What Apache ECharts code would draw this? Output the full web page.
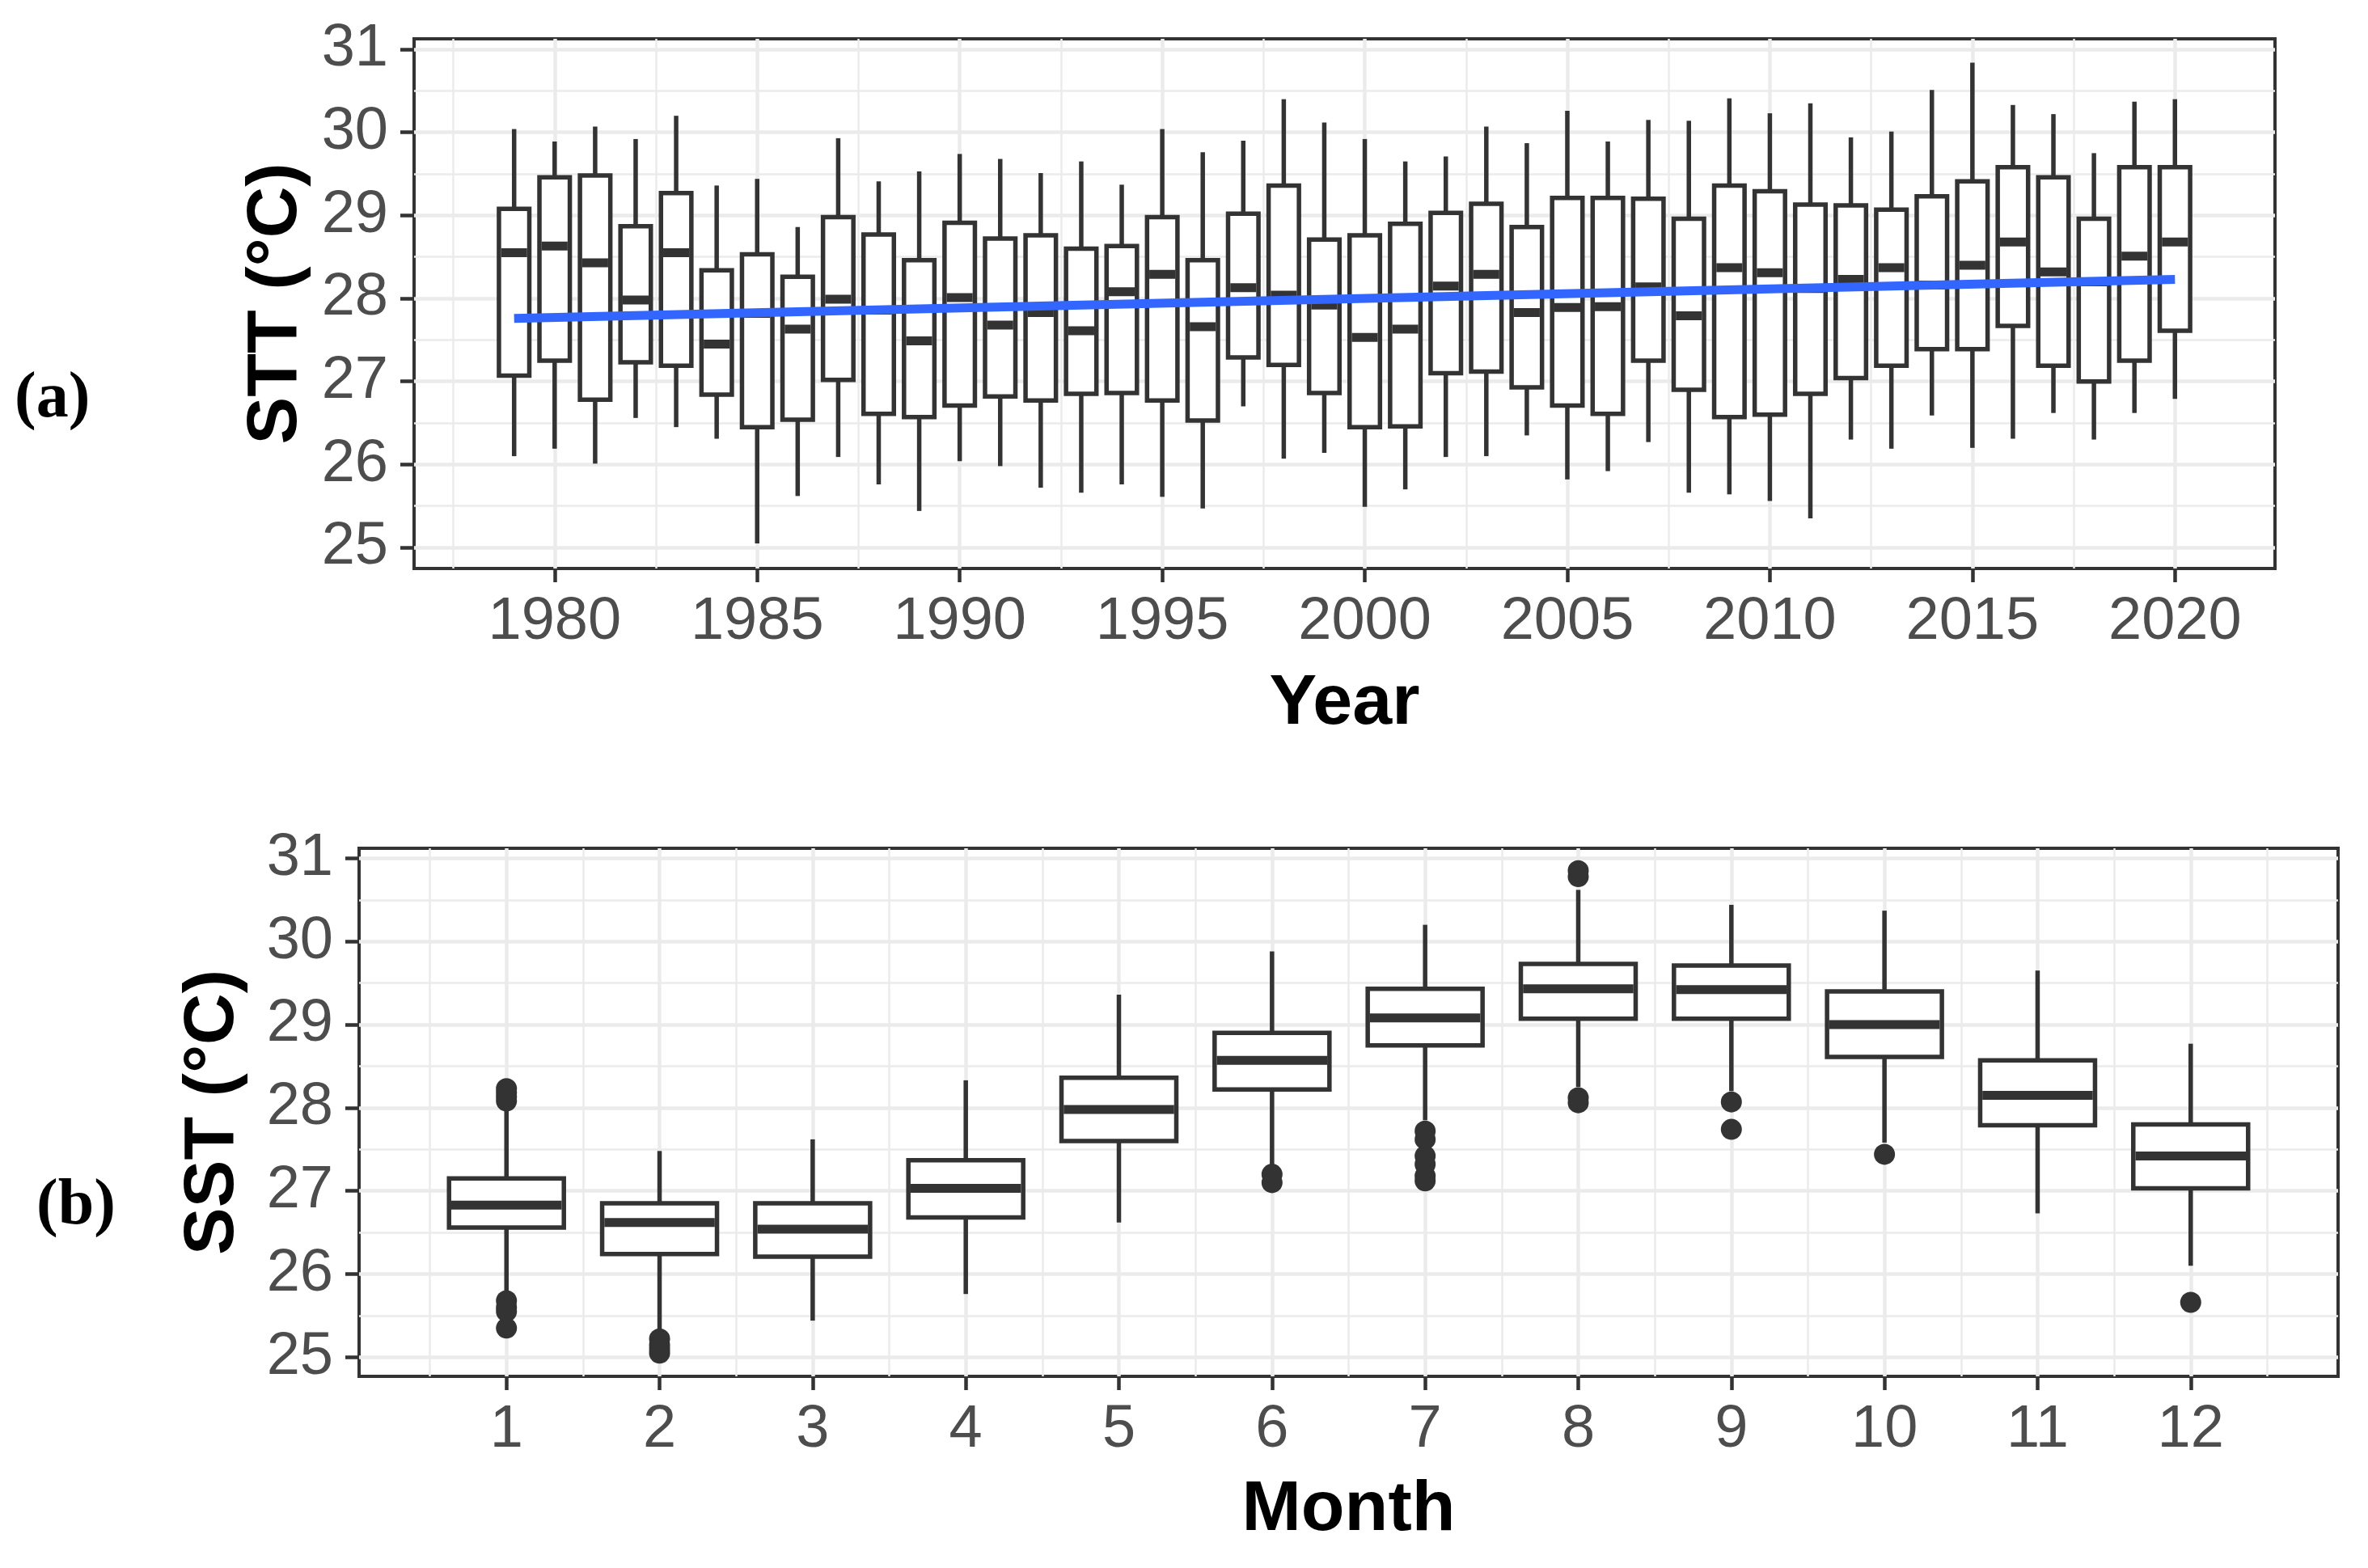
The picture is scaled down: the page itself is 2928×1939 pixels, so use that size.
<!DOCTYPE html>
<html>
<head>
<meta charset="utf-8">
<script src="https://cdn.jsdelivr.net/npm/echarts@6/dist/echarts.min.js"></script>
<style>
html,body{margin:0;padding:0;background:#fff;}
#chart{width:2928px;height:1939px;}
</style>
</head>
<body>
<div id="chart"></div>
<script>
// ---------- Data: (a) yearly boxes ----------
const years = [1979,1980,1981,1982,1983,1984,1985,1986,1987,1988,1989,1990,1991,1992,1993,1994,1995,1996,1997,1998,1999,2000,2001,2002,2003,2004,2005,2006,2007,2008,2009,2010,2011,2012,2013,2014,2015,2016,2017,2018,2019,2020];
const yearLow  = [26.10,26.19,26.01,26.56,26.45,26.31,25.05,25.62,26.09,25.76,25.44,26.04,25.98,25.72,25.66,25.76,25.61,25.47,26.70,26.07,26.14,25.49,25.70,26.09,26.10,26.35,25.82,25.92,26.27,25.66,25.64,25.56,25.35,26.30,26.19,26.59,26.20,26.31,26.62,26.30,26.62,26.79];
const yearQ1   = [27.07,27.25,26.78,27.23,27.19,26.84,26.45,26.54,27.02,26.61,26.57,26.71,26.82,26.77,26.85,26.86,26.77,26.53,27.29,27.20,26.86,26.45,26.46,27.10,27.12,26.93,26.71,26.61,27.25,26.90,26.57,26.60,26.85,27.04,27.19,27.39,27.39,27.67,27.19,27.00,27.25,27.61];
const yearMed  = [28.55,28.63,28.43,27.98,28.55,27.45,27.82,27.63,27.99,27.86,27.49,28.01,27.68,27.83,27.61,28.08,28.29,27.66,28.13,28.04,27.92,27.53,27.63,28.15,28.29,27.83,27.89,27.90,28.14,27.79,28.37,28.31,28.12,28.23,28.37,28.16,28.40,28.68,28.32,28.20,28.51,28.68];
const yearQ3   = [29.08,29.46,29.48,28.87,29.27,28.34,28.53,28.26,28.98,28.77,28.46,28.91,28.72,28.76,28.60,28.63,28.98,28.46,29.02,29.36,28.71,28.76,28.90,29.03,29.14,28.86,29.21,29.21,29.20,28.96,29.36,29.29,29.13,29.12,29.07,29.23,29.41,29.58,29.46,28.96,29.58,29.58];
const yearHigh = [30.04,29.89,30.07,29.92,30.20,29.36,29.44,28.86,29.93,29.41,29.53,29.74,29.68,29.51,29.65,29.37,30.04,29.76,29.90,30.40,30.12,29.92,29.65,29.71,30.07,29.87,30.26,29.89,30.15,30.14,30.41,30.23,30.35,29.94,30.01,30.51,30.84,30.33,30.22,29.75,30.37,30.40];
const trendLine = [[1979, 27.76], [2020, 28.23]];

// ---------- Data: (b) monthly boxes ----------
const months = [1,2,3,4,5,6,7,8,9,10,11,12];
const monthLow  = [25.71,25.32,25.44,25.76,26.62,27.30,27.85,28.25,28.20,27.58,26.73,26.10];
const monthQ1   = [26.56,26.24,26.21,26.68,27.60,28.22,28.75,29.07,29.07,28.61,27.79,27.03];
const monthMed  = [26.83,26.62,26.54,27.03,27.98,28.57,29.08,29.43,29.42,29.00,28.15,27.42];
const monthQ3   = [27.15,26.85,26.85,27.37,28.36,28.90,29.43,29.73,29.71,29.40,28.57,27.80];
const monthHigh = [28.00,27.48,27.62,28.33,29.36,29.88,30.20,30.62,30.44,30.37,29.65,28.77];
const monthOutliers = [
  [1,28.08],[1,28.13],[1,28.18],[1,28.23],[1,25.68],[1,25.60],[1,25.55],[1,25.35],
  [2,25.22],[2,25.15],[2,25.10],[2,25.05],
  [6,27.20],[6,27.10],
  [7,27.72],[7,27.62],[7,27.42],[7,27.32],[7,27.18],[7,27.12],
  [8,30.85],[8,30.78],[8,28.12],[8,28.06],
  [9,28.07],[9,27.74],
  [10,27.44],
  [12,25.66]
];

// ---------- Tick labels ----------
const yearTicks = [1980,1985,1990,1995,2000,2005,2010,2015,2020];
const yearMinorTicks = [1977.5,1982.5,1987.5,1992.5,1997.5,2002.5,2007.5,2012.5,2017.5];
const tempTicks = [25,26,27,28,29,30,31];
const tempMinorTicks = [25.5,26.5,27.5,28.5,29.5,30.5];
const monthTicks = [1,2,3,4,5,6,7,8,9,10,11,12];
const monthMinorTicks = [0.5,1.5,2.5,3.5,4.5,5.5,6.5,7.5,8.5,9.5,10.5,11.5,12.5];

// ---------- Build ----------
const DARK = '#333333';
const BOX_W = 0.75;
function zipBoxes(xs, lo, q1, md, q3, hi) {
  return xs.map((x, i) => [x, lo[i], q1[i], md[i], q3[i], hi[i]]);
}
function boxRender(params, api) {
  const x = api.value(0);
  const pLow = api.coord([x, api.value(1)]);
  const pQ1 = api.coord([x, api.value(2)]);
  const pMed = api.coord([x, api.value(3)]);
  const pQ3 = api.coord([x, api.value(4)]);
  const pHigh = api.coord([x, api.value(5)]);
  const w = api.size([BOX_W, 0])[0];
  const cx = pLow[0];
  const lw = 5.5;
  return {
    type: 'group',
    children: [
      {type: 'line', shape: {x1: cx, y1: pHigh[1], x2: cx, y2: pQ3[1]}, style: {stroke: DARK, lineWidth: lw}},
      {type: 'line', shape: {x1: cx, y1: pQ1[1], x2: cx, y2: pLow[1]}, style: {stroke: DARK, lineWidth: lw}},
      {type: 'rect', shape: {x: cx - w / 2, y: pQ3[1], width: w, height: pQ1[1] - pQ3[1]},
        style: {fill: '#ffffff', stroke: DARK, lineWidth: lw}},
      {type: 'line', shape: {x1: cx - w / 2 + lw / 2, y1: pMed[1], x2: cx + w / 2 - lw / 2, y2: pMed[1]},
        style: {stroke: DARK, lineWidth: 11}}
    ]
  };
}

const tickLabelStyle = {fontFamily: 'Liberation Sans', fontSize: 74, color: '#4D4D4D'};
const nameStyle = {fontFamily: 'Liberation Sans', fontSize: 88, fontWeight: 'bold', color: '#000000'};

function mainAxis(gridIndex, min, max, ticks, isX, name, nameGap) {
  return {
    type: 'value', gridIndex, min, max,
    position: isX ? 'bottom' : 'left',
    name, nameLocation: 'middle', nameGap, nameTextStyle: nameStyle,
    axisLine: {show: false},
    axisTick: {show: true, inside: false, length: 17, customValues: ticks, lineStyle: {color: DARK, width: 4.5}},
    axisLabel: Object.assign({show: true, margin: isX ? 30 : 32, customValues: ticks,
      formatter: v => String(v)}, tickLabelStyle),
    splitLine: {show: true, lineStyle: {color: '#EBEBEB', width: 4.5}},
    minorTick: {show: false}, minorSplitLine: {show: false}
  };
}
function minorAxis(gridIndex, min, max, ticks, isX) {
  return {
    type: 'value', gridIndex, min, max,
    position: isX ? 'top' : 'right',
    axisLine: {show: false},
    axisTick: {show: false, customValues: ticks},
    axisLabel: {show: false, customValues: ticks},
    splitLine: {show: true, lineStyle: {color: '#EBEBEB', width: 2.5}}
  };
}

const X1MIN = 1976.53, X1MAX = 2022.47, Y1MIN = 24.747, Y1MAX = 31.127;
const X2MIN = 0.0375, X2MAX = 12.9625, Y2MIN = 24.77, Y2MAX = 31.12;

const option = {
  backgroundColor: '#ffffff',
  animation: false,
  grid: [
    {left: 512, top: 48, width: 2301, height: 655, show: true, borderColor: DARK, borderWidth: 4,
      backgroundColor: 'transparent', outerBoundsMode: 'none'},
    {left: 444, top: 1049, width: 2447, height: 653, show: true, borderColor: DARK, borderWidth: 4,
      backgroundColor: 'transparent', outerBoundsMode: 'none'}
  ],
  xAxis: [
    mainAxis(0, X1MIN, X1MAX, yearTicks, true, 'Year', 124),
    minorAxis(0, X1MIN, X1MAX, yearMinorTicks, true),
    mainAxis(1, X2MIN, X2MAX, monthTicks, true, 'Month', 122),
    minorAxis(1, X2MIN, X2MAX, monthMinorTicks, true)
  ],
  yAxis: [
    mainAxis(0, Y1MIN, Y1MAX, tempTicks, false, 'STT (°C)', 126),
    minorAxis(0, Y1MIN, Y1MAX, tempMinorTicks, false),
    mainAxis(1, Y2MIN, Y2MAX, tempTicks, false, 'SST (°C)', 136),
    minorAxis(1, Y2MIN, Y2MAX, tempMinorTicks, false)
  ],
  graphic: [
    {type: 'text', left: 18, top: 454, style: {text: '(a)', fontFamily: 'Liberation Serif', fontWeight: 'bold', fontSize: 80, fill: '#000'}},
    {type: 'text', left: 45, top: 1452, style: {text: '(b)', fontFamily: 'Liberation Serif', fontWeight: 'bold', fontSize: 80, fill: '#000'}}
  ],
  series: [
    {
      type: 'custom', name: 'yearly', xAxisIndex: 0, yAxisIndex: 0,
      renderItem: boxRender,
      dimensions: ['year', 'low', 'q1', 'median', 'q3', 'high'],
      encode: {x: 0, y: [1, 2, 3, 4, 5]},
      data: zipBoxes(years, yearLow, yearQ1, yearMed, yearQ3, yearHigh),
      z: 3
    },
    {
      type: 'line', name: 'trend', xAxisIndex: 0, yAxisIndex: 0,
      data: trendLine, showSymbol: false, symbol: 'none',
      lineStyle: {color: '#3366FF', width: 11}, z: 4
    },
    {
      type: 'custom', name: 'monthly', xAxisIndex: 2, yAxisIndex: 2,
      renderItem: boxRender,
      dimensions: ['month', 'low', 'q1', 'median', 'q3', 'high'],
      encode: {x: 0, y: [1, 2, 3, 4, 5]},
      data: zipBoxes(months, monthLow, monthQ1, monthMed, monthQ3, monthHigh),
      z: 3
    },
    {
      type: 'scatter', name: 'outliers', xAxisIndex: 2, yAxisIndex: 2,
      data: monthOutliers, symbol: 'circle', symbolSize: 26,
      itemStyle: {color: DARK, opacity: 1}, z: 4
    }
  ]
};
const chart = echarts.init(document.getElementById('chart'), null, {renderer: 'canvas'});
chart.setOption(option);
</script>
</body>
</html>
